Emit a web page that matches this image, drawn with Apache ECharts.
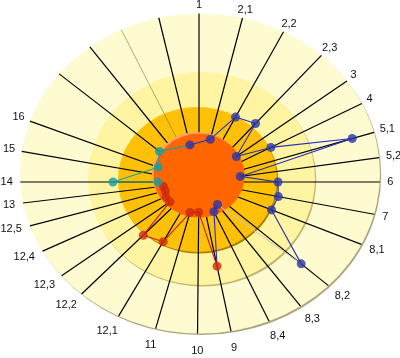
<!DOCTYPE html>
<html><head><meta charset="utf-8">
<script src="https://cdn.jsdelivr.net/npm/echarts@6/dist/echarts.min.js"></script>
<style>html,body{margin:0;padding:0;background:#fff}#c{width:400px;height:358px}</style>
</head><body><div id="c"></div>
<script>
// ---- spokes (clockwise from top); u1..u4 are unlabeled spokes ----
const spokeNames = ['1','2,1','2,2','2,3','3','4','5,1','5,2','6','7','8,1','8,2','8,3','8,4','9','10','11','12,1','12,2','12,3','12,4','12,5','13','14','15','16','u1','u2','u3','u4'];
const spokeAngles = [90,76.5,63,48.8,37,28,17.4,8.5,0,-11.5,-23,-41.5,-53.5,-65.5,-79,-90.5,-105,-118.5,-133.5,-143,-154,-164,-172.5,180,169.2,158.3,139.5,126.2,114.8,102.5];
const unlabeled = ['u1','u2','u3','u4'];
const faintSpokes = ['u3'];

// ---- series (spoke, value in % of rim) ----
const blueSpokes = ['u4','2,1','2,2','2,3','3','4','5,1','5,2','6','7','8,1','8,2','8,3','8,4'];
const blueValues = [23.3,27,44.7,47.7,26,45.2,89.2,23.2,43.9,45,43.8,75.8,17.2,20];
const redSpokes  = ['9','10','11','12,1','12,2','12,3','12,4','12,5','13'];
const redValues  = [52.6,18.5,19.4,41.7,45,20.2,20.5,19.5,20];
const cyanSpokes = ['14','14','16','u1'];
const cyanValues = [22.8,47.8,24.4,28.9];

// ---- geometry (data units = px, origin at spoke centre) ----
const RX = 180, RY = 163, D = Math.PI / 180;
const rings = [
  {cx: 1,    cy: 8.5, rx: 180,   ry: 160,   fill: '#FFFBD0', edge: '#ADA57C'},
  {cx: 2.5,  cy: 3.5, rx: 113.5, ry: 106.5, fill: '#FFF4A2', edge: '#C4B56E'},
  {cx: -1.5, cy: 2.5, rx: 79.5,  ry: 72.5,  fill: '#FFC107', edge: '#A98000'}
];
const core = {cx: -0.5, cy: 7, rx: 45.5, ry: 42, fill: '#FF6600', bevel: '#FFA366'};

function dirOf(name) {
  const th = spokeAngles[spokeNames.indexOf(name)] * D;
  return [Math.cos(th) * RX, Math.sin(th) * RY];
}
function pt(name, v) { const d = dirOf(name); return [d[0] * v / 100, d[1] * v / 100]; }
function rimT(name) {
  const [c, s] = dirOf(name), o = rings[0];
  const a2 = o.rx * o.rx, b2 = o.ry * o.ry;
  const A = c * c / a2 + s * s / b2;
  const B = -2 * (c * o.cx / a2 + s * o.cy / b2);
  const C = o.cx * o.cx / a2 + o.cy * o.cy / b2 - 1;
  return (-B + Math.sqrt(B * B - 4 * A * C)) / (2 * A);
}
function textW(s) { let w = 0; for (const ch of s) w += (ch === ',') ? 3.06 : 6.12; return w; }

const bluePts = blueSpokes.map((n, i) => pt(n, blueValues[i]));
const redPts  = redSpokes.map((n, i) => pt(n, redValues[i]));
const cyanPts = cyanSpokes.map((n, i) => pt(n, cyanValues[i]));

function ellipseEl(api, cx, cy, rx, ry, fill, dx, dy) {
  const c = api.coord([cx, cy]);
  const e = api.coord([cx + rx, cy + ry]);
  const prx = Math.abs(e[0] - c[0]), pry = Math.abs(e[1] - c[1]);
  return {type: 'circle', x: c[0] + dx, y: c[1] + dy, scaleY: pry / prx,
          shape: {cx: 0, cy: 0, r: prx}, style: {fill: fill}};
}

const lineBase = {type: 'line', showSymbol: false, symbol: 'none', silent: true, z: 4, animation: false};
const scatterBase = {type: 'scatter', symbolSize: 9, silent: true, z: 5, animation: false};

const chart = echarts.init(document.getElementById('c'), null, {renderer: 'canvas'});
chart.setOption({
  animation: false,
  backgroundColor: '#fff',
  grid: {left: 0, right: 0, top: 0, bottom: 0},
  xAxis: {type: 'value', min: -199, max: 201, show: false},
  yAxis: {type: 'value', min: -176, max: 182, show: false},
  series: [
    { // rings
      type: 'custom', z: 1, silent: true,
      data: rings.map((r, i) => [i]),
      renderItem: (params, api) => {
        const r = rings[params.dataIndex];
        return {type: 'group', children: [
          ellipseEl(api, r.cx, r.cy, r.rx, r.ry, r.edge, 1.2, 1.6),
          ellipseEl(api, r.cx, r.cy, r.rx, r.ry, r.fill, 0, 0)
        ]};
      }
    },
    { // spokes
      type: 'custom', z: 2, silent: true,
      data: spokeNames.map((n, i) => [i]),
      renderItem: (params, api) => {
        const name = spokeNames[params.dataIndex];
        const t = rimT(name), d = dirOf(name);
        const p0 = api.coord([0, 0]), p1 = api.coord([d[0] * t, d[1] * t]);
        const faint = faintSpokes.includes(name);
        return {type: 'line', shape: {x1: p0[0], y1: p0[1], x2: p1[0], y2: p1[1]},
                style: {stroke: faint ? 'rgba(110,105,60,0.55)' : '#000', lineWidth: faint ? 1 : 1.2}};
      }
    },
    { // central disk
      type: 'custom', z: 3, silent: true,
      data: [[0]],
      renderItem: (params, api) => ({type: 'group', children: [
        ellipseEl(api, core.cx, core.cy, core.rx, core.ry, core.bevel, -1, -1),
        ellipseEl(api, core.cx, core.cy, core.rx, core.ry, core.fill, 0.6, 0.6)
      ]})
    },
    Object.assign({}, lineBase, {data: bluePts.slice(0, 12), lineStyle: {color: '#2430B8', width: 1.1}}),
    Object.assign({}, lineBase, {data: [bluePts[11], bluePts[12]], lineStyle: {color: '#C4C4C4', width: 1}}),
    Object.assign({}, lineBase, {data: [bluePts[12], bluePts[13], redPts[0]], lineStyle: {color: '#2430B8', width: 1.1}}),
    Object.assign({}, lineBase, {data: redPts.concat([cyanPts[0]]), lineStyle: {color: '#CC1A00', width: 1.1}}),
    Object.assign({}, lineBase, {data: cyanPts.concat([bluePts[0]]), lineStyle: {color: '#1A9FA3', width: 1.1}}),
    Object.assign({}, scatterBase, {data: redPts, itemStyle: {color: '#CC2A0C'}}),
    Object.assign({}, scatterBase, {data: cyanPts, itemStyle: {color: '#189CA0'}}),
    Object.assign({}, scatterBase, {data: bluePts, itemStyle: {color: '#2A35A6'}}),
    { // spoke labels
      type: 'custom', z: 6, silent: true,
      data: spokeNames.map((n, i) => [i]),
      renderItem: (params, api) => {
        const name = spokeNames[params.dataIndex];
        if (unlabeled.includes(name)) return null;
        const d = dirOf(name), t = rimT(name);
        const len = Math.hypot(d[0], d[1]);
        const ux = d[0] / len, uy = d[1] / len;
        const gap = 7.5 - 4.5 * uy;
        const w = textW(name), h = 11;
        const lx = d[0] * t + ux * gap + ux * w / 2;
        const ly = d[1] * t + uy * gap + uy * h / 2;
        const p = api.coord([lx, ly]);
        return {type: 'text', x: p[0], y: p[1],
                style: {text: name, fill: '#111', font: '11px "Liberation Sans", Arial, sans-serif',
                        align: 'center', verticalAlign: 'middle'}};
      }
    }
  ]
});
</script>
</body></html>
